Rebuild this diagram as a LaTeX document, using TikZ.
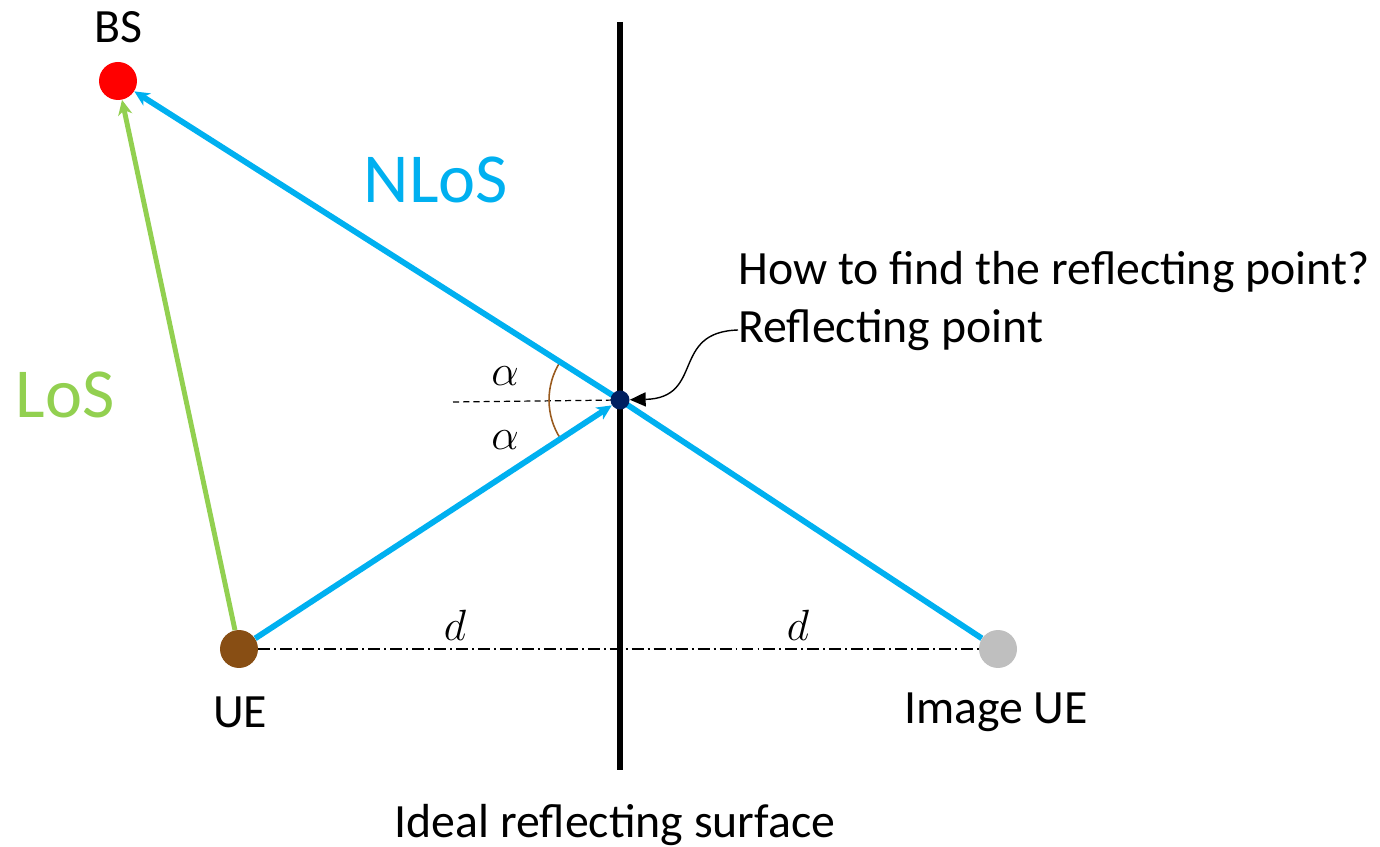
\documentclass[tikz,border=0pt]{standalone}
\usepackage{fontspec}
\setmainfont{Carlito}
\usetikzlibrary{arrows.meta,backgrounds}
\definecolor{nlosblue}{RGB}{0,176,240}
\definecolor{losgreen}{RGB}{146,208,80}
\definecolor{bsred}{RGB}{255,0,0}
\definecolor{uebrown}{RGB}{136,78,20}
\definecolor{imggray}{RGB}{191,191,191}
\definecolor{refnavy}{RGB}{0,32,96}
\definecolor{arcbrown}{RGB}{153,90,30}
\tikzset{
  dot/.style={circle, inner sep=0pt, minimum size=0.76cm},
  lbl/.style={inner sep=0pt, font=\fontsize{27.2}{32}\selectfont},
  biglbl/.style={inner sep=0pt, font=\fontsize{40}{48}\selectfont},
  mathlbl/.style={inner sep=0pt, font=\fontsize{28}{32}\selectfont},
  tip/.style={-{Stealth[length=8.5pt,width=8pt,inset=2.5pt]}},
}
\begin{document}
\begin{tikzpicture}[x=0.02cm,y=-0.02cm]
\useasboundingbox (0,0) rectangle (1380,847);
% points
\node[dot, fill=bsred] (bs) at (118,81) {};
\node[dot, fill=uebrown] (ue) at (239,649) {};
\node[dot, fill=imggray] (img) at (998,649) {};
\node[circle, inner sep=0pt, minimum size=0.38cm, fill=refnavy] (refl) at (620,400) {};
\coordinate (walltop) at (620,22);
\coordinate (wallbot) at (620,770);
\coordinate (dashstart) at (453,402);
% labels
\node[lbl] (bslbl) at (118,27) {BS};
\node[lbl] (uelbl) at (240,712) {UE};
\node[lbl] (imglbl) at (996,712) {Image UE};
\node[lbl] (surf) at (615,825) {Ideal reflecting surface};
\node[lbl, anchor=west] (q) at (738,272) {How to find the reflecting point?};
\node[lbl, anchor=west] (rp) at (738,330) {Reflecting point};
\node[biglbl, text=nlosblue] (nlos) at (436,180) {NLoS};
\node[biglbl, text=losgreen] (los) at (65,395) {LoS};
\node[mathlbl] (a1) at (505,376) {$\alpha$};
\node[mathlbl] (a2) at (505,440) {$\alpha$};
\node[mathlbl] (d1) at (455,625) {$d$};
\node[mathlbl] (d2) at (798,625) {$d$};
\begin{pgfonlayer}{background}
\draw[line width=3.4pt] (walltop) -- (wallbot);
\draw[line width=0.7pt, dash pattern=on 6.8pt off 2.3pt on 1.1pt off 2.3pt] (ue) -- (img);
\draw[line width=0.7pt, dash pattern=on 3.5pt off 2.3pt] (dashstart) -- (refl.center);
\draw[arcbrown, line width=0.9pt] (refl.center) ++(147.6:1.42cm) arc[start angle=147.6, end angle=213.2, radius=1.42cm];
\draw[losgreen, line width=2.8pt, tip] (ue) -- (bs);
\draw[nlosblue, line width=3.3pt, tip] (ue) -- (refl);
\draw[nlosblue, line width=3.3pt, tip] (img) -- (refl.center) -- (bs);
\end{pgfonlayer}
\draw[line width=0.8pt, -{Triangle[length=9pt,width=8pt]}] (rp.west) .. controls (670,332) and (705,398) .. (refl);
\end{tikzpicture}
\end{document}
